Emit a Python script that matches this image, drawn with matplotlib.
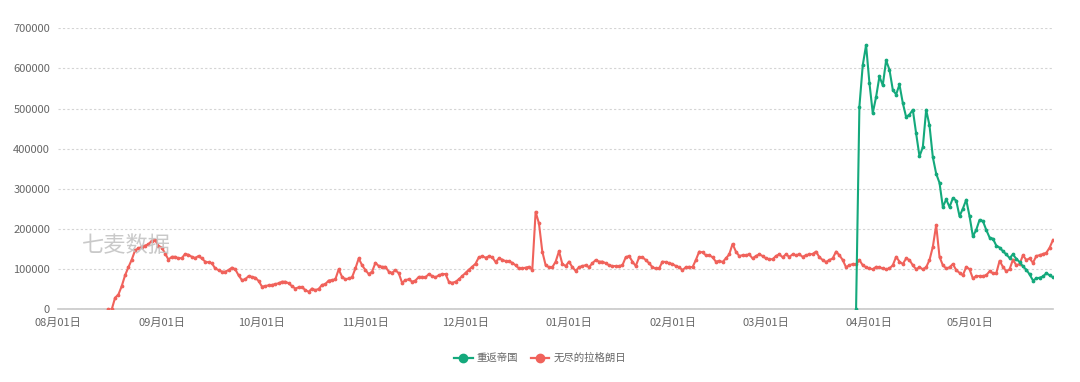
import matplotlib
matplotlib.use("Agg")
import matplotlib.pyplot as plt
import matplotlib.dates as mdates
from matplotlib.lines import Line2D
import pandas as pd

plt.rcParams['font.family'] = ['Noto Sans CJK SC', 'DejaVu Sans']

# ---------------- data ----------------
series_names = ["重返帝国", "无尽的拉格朗日"]

red_start = "2021-08-16"
red_aug = [0, 0, 29, 37, 58, 85, 105, 124, 147, 152, 156, 159, 162, 171, 173, 158]
red_sep = [154, 139, 124, 131, 131, 127, 128, 138, 136, 131,
           128, 133, 127, 119, 117, 115, 102, 98, 94, 94,
           98, 104, 100, 85, 73, 75, 83, 81, 79, 71]
red_oct = [57, 58, 60, 61, 63, 65, 69, 69, 65, 58,
           52, 55, 56, 48, 44, 52, 48, 51, 61, 63,
           72, 73, 75, 100, 81, 75, 77, 80, 102, 127, 110]
red_nov = [98, 88, 94, 116, 108, 106, 106, 94, 91, 98,
           90, 66, 73, 75, 69, 72, 81, 81, 80, 88,
           83, 80, 85, 88, 88, 69, 66, 69, 75, 83]
red_dec = [91, 99, 106, 114, 130, 132, 129, 132, 130, 118,
           127, 124, 120, 120, 116, 110, 102, 102, 104, 106,
           99, 243, 214, 144, 110, 105, 105, 119, 145, 113, 108]
red_jan = [119, 105, 96, 105, 108, 110, 105, 115, 123, 119,
           119, 115, 110, 108, 108, 108, 110, 130, 133, 119,
           108, 130, 130, 123, 115, 105, 102, 102, 119, 118, 115]
red_feb = [113, 108, 105, 98, 105, 106, 105, 123, 144, 142,
           135, 135, 130, 119, 121, 118, 127, 137, 163, 144,
           133, 135, 135, 137, 127, 133, 137, 133]
red_mar = [127, 125, 125, 133, 137, 130, 137, 131, 137, 135,
           137, 131, 135, 137, 138, 144, 130, 123, 118, 123,
           127, 144, 135, 123, 105, 110, 113, 112, 123, 110, 105]
red_apr = [102, 100, 106, 105, 102, 100, 102, 110, 131, 119,
           113, 127, 123, 110, 100, 105, 100, 105, 123, 156,
           210, 131, 110, 102, 105, 113, 98, 91, 85, 106]
red_may = [100, 77, 83, 83, 83, 85, 95, 90, 90, 121,
           106, 95, 100, 124, 110, 113, 135, 123, 127, 116,
           133, 135, 138, 141, 154, 173]

green_start = "2022-03-28"
green_mar = [0, 505, 608, 658]
green_apr = [564, 489, 529, 580, 558, 620, 597, 547, 535, 560,
             514, 479, 485, 497, 438, 381, 404, 497, 458, 379,
             338, 315, 255, 274, 255, 277, 271, 232, 251, 273]
green_may = [232, 182, 198, 223, 220, 198, 179, 176, 159, 154,
             145, 137, 128, 137, 126, 118, 107, 99, 87, 72,
             77, 79, 82, 90, 85, 80]

y_ticks = [0, 100000, 200000, 300000, 400000, 500000, 600000, 700000]
x_tick_months = ["2021-08-01", "2021-09-01", "2021-10-01", "2021-11-01", "2021-12-01",
                 "2022-01-01", "2022-02-01", "2022-03-01", "2022-04-01", "2022-05-01"]

red_vals = [v * 1000 for v in (red_aug + red_sep + red_oct + red_nov + red_dec +
                               red_jan + red_feb + red_mar + red_apr + red_may)]
green_vals = [v * 1000 for v in (green_mar + green_apr + green_may)]
red_dates = pd.date_range(red_start, periods=len(red_vals), freq="D")
green_dates = pd.date_range(green_start, periods=len(green_vals), freq="D")

# ---------------- style ----------------
GREEN = "#14a97c"
RED = "#f0625b"
TXT = "#666666"

fig = plt.figure(figsize=(10.8, 3.82), dpi=100)
ax = fig.add_axes([0.054, 0.190, 0.921, 0.736])

ax.plot(red_dates, red_vals, color=RED, lw=1.5, marker="o", ms=1.7, zorder=3)
ax.plot(green_dates, green_vals, color=GREEN, lw=1.5, marker="o", ms=1.7, zorder=4)

ax.set_xlim(pd.Timestamp("2021-08-01"), red_dates[-1])
ax.set_ylim(0, 700000)
ax.set_yticks(y_ticks)
ax.set_yticklabels([str(v) for v in y_ticks])
ax.set_xticks([pd.Timestamp(d) for d in x_tick_months])
ax.xaxis.set_major_formatter(mdates.DateFormatter("%m月%d日"))

ax.grid(axis="y", color="#d4d4d4", ls=(0, (2, 2)), lw=0.8)
ax.set_axisbelow(True)
for s in ["top", "right", "left"]:
    ax.spines[s].set_visible(False)
ax.spines["bottom"].set_color("#c8c8c8")
ax.spines["bottom"].set_linewidth(1.2)
ax.tick_params(axis="both", length=0, colors=TXT, labelsize=8)
ax.tick_params(axis="x", pad=6)
ax.tick_params(axis="y", pad=6)

# watermark
fig.text(126 / 1080, 1 - 246 / 382, "七麦数据", fontsize=16, color="#c4c4c4",
         ha="center", va="center", alpha=0.9, zorder=0)

handles = [Line2D([0], [0], color=GREEN, lw=1.6, marker="o", ms=6),
           Line2D([0], [0], color=RED, lw=1.6, marker="o", ms=6)]
fig.legend(handles, series_names, loc="center", bbox_to_anchor=(0.5, 1 - 358 / 382),
           ncol=2, frameon=False, fontsize=7.5, handlelength=1.8, columnspacing=1.2,
           handletextpad=0.4, labelcolor=TXT)

fig.savefig("out.png", dpi=100)
